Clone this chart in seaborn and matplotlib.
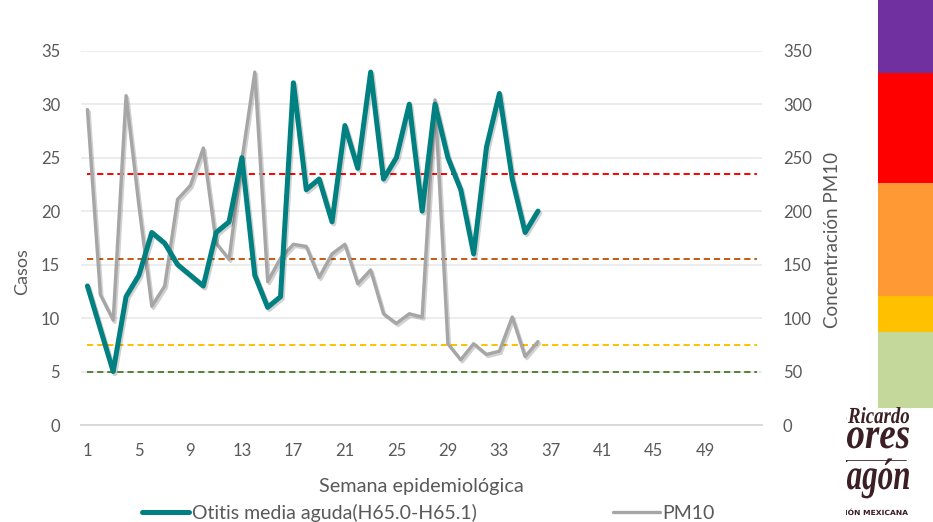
import matplotlib
matplotlib.use("Agg")
import matplotlib.pyplot as plt
import matplotlib.patheffects as pe
from matplotlib.lines import Line2D
from matplotlib.textpath import TextPath
from matplotlib.patches import PathPatch
from matplotlib.font_manager import FontProperties
from matplotlib.transforms import Affine2D
import seaborn as sns
import numpy as np
import pandas as pd

# ---------------- data ----------------
weeks = list(range(1, 37))
otitis = [13, 9, 5, 12, 14, 18, 17, 15, 14, 13, 18, 19, 25, 14, 11, 12, 32, 22,
          23, 19, 28, 24, 33, 23, 25, 30, 20, 30, 25, 22, 16, 26, 31, 23, 18, 20]
pm10 = [295, 122, 98, 308, 205, 111, 130, 211, 224, 259, 170, 155, 248, 330, 134, 156, 169, 167,
        138, 160, 169, 132, 145, 104, 95, 104, 101, 304, 76, 61, 76, 66, 69, 101, 64, 78]
thresholds = [235, 155, 75, 50]
threshold_colors = ["#FF0000", "#C55A11", "#FFC000", "#548235"]
threshold_span = [1, 53]
xtick_labels = list(range(1, 50, 4))
left_ticks = list(range(0, 36, 5))
right_ticks = list(range(0, 351, 50))
series_names = ["Otitis media aguda(H65.0-H65.1)", "PM10"]
band_colors = ["#C5D89C", "#FFC000", "#FF9933", "#FF0000", "#7030A0"]
band_sizes = [76, 36, 113, 110, 73]

df = pd.DataFrame({"Semana": weeks, "Otitis": otitis, "PM10": pm10})

# ---------------- figure ----------------
sns.set_theme(style="white")
plt.rcParams["font.family"] = ["Lato", "DejaVu Sans"]

W, H = 933, 522
fig = plt.figure(figsize=(W / 100, H / 100), dpi=100)


def px(l, t, r, b):
    return [l / W, 1 - b / H, (r - l) / W, (b - t) / H]


ax = fig.add_axes(px(81, 50.7, 762, 425))
ax2 = ax.twinx()
ax.set_zorder(ax2.get_zorder() + 1)
ax.patch.set_visible(False)

txt = "#595959"
teal = "#008080"
grey = "#A6A6A6"

# grid + thresholds on the secondary axis (below)
ax2.set_ylim(0, 350)
ax2.set_yticks(right_ticks)
ax2.grid(axis="y", color="#E7E7E7", linewidth=1.1)
ax2.set_axisbelow(True)
for v, c in zip(thresholds, threshold_colors):
    ax2.hlines(v, threshold_span[0], threshold_span[1], colors=c, linestyles=(0, (3.2, 2.0)),
               linewidth=1.4, zorder=2)

shadow = [pe.SimpleLineShadow(offset=(1.2, -1.5), shadow_color="#000000", alpha=0.18),
          pe.Normal()]

sns.lineplot(data=df, x="Semana", y="PM10", ax=ax2, color=grey, linewidth=2.4,
             legend=False, zorder=3)
ax2.lines[-1].set_path_effects(shadow)

sns.lineplot(data=df, x="Semana", y="Otitis", ax=ax, color=teal, linewidth=3.6,
             legend=False, zorder=4)
ax.lines[-1].set_path_effects(shadow)
ax.lines[-1].set_solid_capstyle("round")
ax.lines[-1].set_solid_joinstyle("round")

ax.set_ylim(0, 35)
ax.set_yticks(left_ticks)
ax.set_xlim(0.5, 53.4)
ax.set_xticks(xtick_labels)
ax.set_xticklabels([str(t) for t in xtick_labels])

for a in (ax, ax2):
    for s in a.spines.values():
        s.set_visible(False)
ax2.spines["bottom"].set_visible(True)
ax2.spines["bottom"].set_color("#D9D9D9")
ax2.spines["bottom"].set_linewidth(1.4)

ax.tick_params(axis="both", length=0, labelsize=12, labelcolor=txt)
ax.tick_params(axis="y", pad=15)
ax.tick_params(axis="x", pad=13)
ax2.tick_params(axis="y", length=0, labelsize=12, labelcolor=txt, pad=15)
ax2.tick_params(axis="x", length=0, labelbottom=False)

ax.set_xlabel("Semana epidemiológica", fontsize=14.3, color=txt)
ax.xaxis.label.set_va("center")
ax.xaxis.set_label_coords(0.5, -0.163)
ax.set_ylabel("Casos", fontsize=13, color=txt)
ax.yaxis.set_label_coords(-0.0866, 0.41)
ax.yaxis.label.set_va("center")
ax2.set_ylabel("Concentración PM10", fontsize=13.5, color=txt)
ax2.yaxis.set_label_coords(1.104, 0.494)
ax2.yaxis.label.set_va("center")

handles = [Line2D([], [], color=teal, linewidth=3.6, solid_capstyle="round"),
           Line2D([], [], color=grey, linewidth=2.4)]
leg = ax.legend(handles, series_names, loc="center", bbox_to_anchor=(0.510, -0.235), ncol=2,
                frameon=False, fontsize=14, handlelength=2.45, handletextpad=0.12,
                columnspacing=7.0, labelcolor=txt)

# ---------------- side colour scale ----------------
cb = fig.add_axes(px(878, 0, 933, 408))
cb.bar([0] * len(band_sizes), band_sizes, bottom=np.concatenate([[0], np.cumsum(band_sizes)[:-1]]),
       color=band_colors, width=1.0, linewidth=0)
cb.set_xlim(-0.5, 0.5)
cb.set_ylim(0, sum(band_sizes))
cb.axis("off")

# ---------------- logo (clipped, condensed lettering) ----------------
logo = fig.add_axes(px(846, 400, 912, 522))
logo.set_xlim(0, 66)
logo.set_ylim(0, 122)
logo.axis("off")
lc = "#3B1F24"
fp = FontProperties(family="Liberation Serif", style="italic", weight="bold")
fp_small = FontProperties(family="DejaVu Sans", weight="bold")


def logo_word(full, tail, right, baseline, tail_width, height, prop):
    tp = TextPath((0, 0), full, size=100, prop=prop)
    tail_ext = TextPath((0, 0), tail, size=100, prop=prop).get_extents()
    ext = tp.get_extents()
    sx = tail_width / tail_ext.width
    sy = height / 100.0
    tr = Affine2D().translate(-ext.x1, 0).scale(sx, sy).translate(right, baseline)
    patch = PathPatch(tr.transform_path(tp), facecolor=lc, edgecolor="none")
    logo.add_patch(patch)
    patch.set_clip_on(True)


logo_word("Ricardo", "Ricardo", 63, 99, 61, 23, fp)
logo_word("Flores", "ores", 63, 74, 62, 44, fp)
logo_word("Magón", "agón", 63, 33, 62, 44, fp)
logo_word("REVOLUCIÓN MEXICANA", "ÓN MEXICANA", 62, 7, 60, 7, fp_small)
logo.plot([0, 60], [62, 62], color=lc, linewidth=0.6)

fig.savefig("out.png", dpi=100)
